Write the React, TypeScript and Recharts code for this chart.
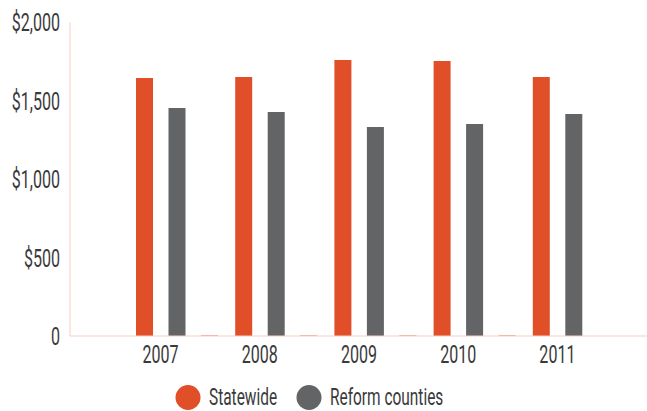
import React from 'react';
import { BarChart, Bar, XAxis, YAxis } from 'recharts';

// values
const years = ['2007', '2008', '2009', '2010', '2011'];
const statewide = [1643, 1650, 1758, 1752, 1650];
const reformCounties = [1452, 1427, 1331, 1350, 1414];
// the small slivers sitting on the axis between groups
const spacer = [6, 6, 6, 6, 0];
const yTicks = [0, 500, 1000, 1500, 2000];

const ORANGE = '#e04f27';
const GREY = '#636466';
const AXIS = '#f6cfc3';
const TEXT = '#3a3a3a';
const FONT = "Roboto, 'Noto Sans', sans-serif";
const SQUEEZE = 0.63;
const FS = 25.5;

const data = years.map((year, i) => ({
  year,
  statewide: statewide[i],
  reform: reformCounties[i],
  spacer: spacer[i],
}));

const fmtMoney = (v: number) => (v === 0 ? '0' : '$' + v.toLocaleString('en-US'));

const YTick = (props: any) => {
  const { x, y, payload } = props;
  return (
    <g transform={`translate(${x},${y}) scale(${SQUEEZE},1)`}>
      <text x={0} y={0} dy="0.36em" textAnchor="end" fill={TEXT} fontSize={FS} fontFamily={FONT}>
        {fmtMoney(payload.value)}
      </text>
    </g>
  );
};

const XTick = (props: any) => {
  const { x, y, payload } = props;
  // labels sit under the first two bars, not under the whole group
  return (
    <g transform={`translate(${x - 16},${y + 19}) scale(${SQUEEZE},1)`}>
      <text x={0} y={0} textAnchor="middle" fill={TEXT} fontSize={FS} fontFamily={FONT}>
        {payload.value}
      </text>
    </g>
  );
};

const legendItems = [
  { label: 'Statewide', color: ORANGE, cx: 188 },
  { label: 'Reform counties', color: GREY, cx: 309 },
];

// drawn as an overlay so it does not eat into the plot height
const ChartLegend = () => (
  <svg width={647} height={411} style={{ position: 'absolute', left: 0, top: 0, pointerEvents: 'none' }}>
    {legendItems.map(item => (
      <g key={item.label}>
        <circle cx={item.cx} cy={397.5} r={12.5} fill={item.color} />
        <g transform={`translate(${item.cx + 21},404.5) scale(${SQUEEZE},1)`}>
          <text x={0} y={0} fill={TEXT} fontSize={24.5} fontFamily={FONT}>
            {item.label}
          </text>
        </g>
      </g>
    ))}
  </svg>
);

export default function App() {
  return (
    <div style={{ position: 'absolute', left: 0, top: 0, width: 647, height: 411, background: '#fff' }}>
      <BarChart
        width={647}
        height={411}
        data={data}
        margin={{ top: 22, right: 0, bottom: 39, left: 0 }}
        barSize={17}
        barGap={15.5}
      >
        <YAxis
          width={70}
          domain={[0, 2000]}
          ticks={yTicks}
          tickLine={false}
          tickSize={6}
          tickMargin={4}
          axisLine={{ stroke: AXIS }}
          tick={<YTick />}
          interval={0}
        />
        <XAxis
          dataKey="year"
          height={36}
          tickLine={false}
          axisLine={{ stroke: AXIS }}
          padding={{ left: 57, right: 24 }}
          tick={<XTick />}
          interval={0}
        />
        <Bar dataKey="statewide" name="Statewide" fill={ORANGE} isAnimationActive={false} />
        <Bar dataKey="reform" name="Reform counties" fill={GREY} isAnimationActive={false} />
        <Bar dataKey="spacer" legendType="none" fill="#f3a189" isAnimationActive={false} />
      </BarChart>
      <ChartLegend />
    </div>
  );
}
